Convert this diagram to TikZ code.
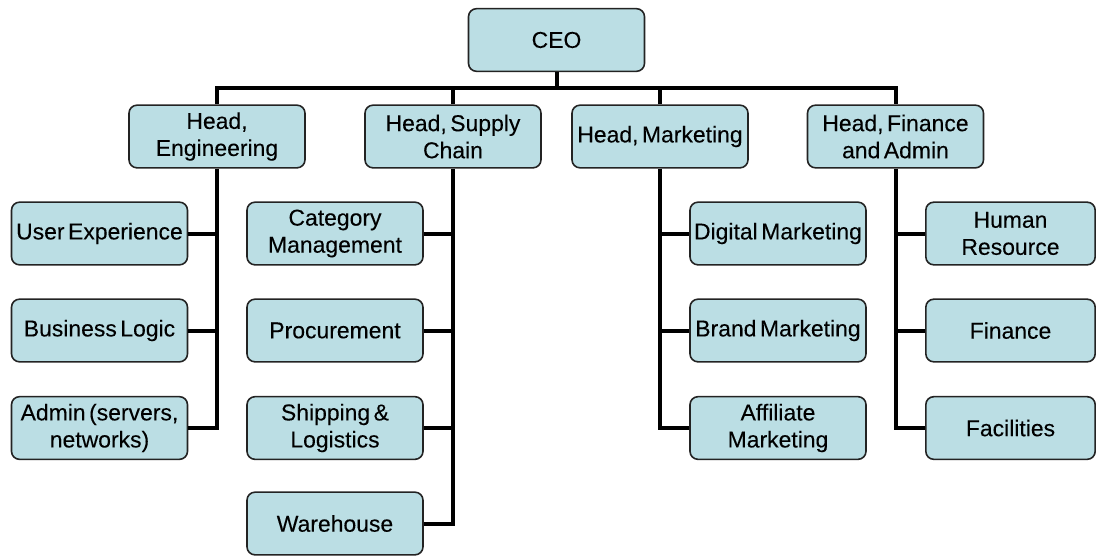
\documentclass[tikz,border=0pt]{standalone}
\usepackage{fontspec}
\setmainfont[WordSpace=0.55,FakeBold=0.15]{Liberation Sans}
\definecolor{boxfill}{RGB}{187,222,228}
\definecolor{boxline}{RGB}{35,35,35}
\tikzset{
  orgbox/.style={draw=boxline, line width=1.2pt, fill=boxfill, rounded corners=6pt,
    minimum width=132pt, minimum height=47pt, inner sep=1pt, align=center,
    font=\fontsize{17.2}{20.3}\selectfont},
  narrowbox/.style={orgbox, minimum width=127pt},
  conn/.style={draw=black, line width=3pt}
}
\begin{document}
\begin{tikzpicture}[x=0.75pt,y=-0.75pt]
\useasboundingbox (0,0) rectangle (1097,557);
\coordinate (bus) at (0,88);
% top
\node[orgbox] (ceo) at (556.5,40) {CEO};
\node[orgbox] (eng) at (217,136.5) {Head,\\Engineering};
\node[orgbox] (sup) at (453,136.5) {Head, Supply\\Chain};
\node[orgbox] (mkt) at (660,136.5) {Head, Marketing};
\node[orgbox] (fin) at (895.5,136.5) {Head, Finance\\and Admin};
% engineering
\node[orgbox] (ux)  at (99.5,233.5) {User Experience};
\node[orgbox] (bl)  at (99.5,330.5) {Business Logic};
\node[orgbox] (adm) at (99.5,428) {Admin (servers,\\networks)};
% supply chain
\node[orgbox] (cat) at (335,233.5) {Category\\Management};
\node[orgbox] (pro) at (335,330.5) {Procurement};
\node[orgbox] (shp) at (335,428) {Shipping \&\\Logistics};
\node[orgbox] (war) at (335,523.5) {Warehouse};
% marketing
\node[orgbox] (dig) at (778,233.5) {Digital Marketing};
\node[orgbox] (brd) at (778,330.5) {Brand Marketing};
\node[orgbox] (aff) at (778,428) {Affiliate\\Marketing};
% finance
\node[narrowbox] (hr)  at (1010.5,233.5) {Human\\Resource};
\node[narrowbox] (fn)  at (1010.5,330.5) {Finance};
\node[narrowbox] (fac) at (1010.5,428) {Facilities};
% connectors: top level
\draw[conn] (ceo.south) -- (ceo.south |- bus);
\draw[conn] (eng.north) -- (eng.north |- bus) -- (fin.north |- bus) -- (fin.north);
\draw[conn] (sup.north) -- (sup.north |- bus);
\draw[conn] (mkt.north) -- (mkt.north |- bus);
% engineering
\draw[conn] (eng.south) |- (adm.east);
\draw[conn] (ux.east) -- (ux.east -| eng.south);
\draw[conn] (bl.east) -- (bl.east -| eng.south);
% supply
\draw[conn] (sup.south) |- (war.east);
\draw[conn] (cat.east) -- (cat.east -| sup.south);
\draw[conn] (pro.east) -- (pro.east -| sup.south);
\draw[conn] (shp.east) -- (shp.east -| sup.south);
% marketing
\draw[conn] (mkt.south) |- (aff.west);
\draw[conn] (dig.west) -- (dig.west -| mkt.south);
\draw[conn] (brd.west) -- (brd.west -| mkt.south);
% finance
\draw[conn] (fin.south) |- (fac.west);
\draw[conn] (hr.west) -- (hr.west -| fin.south);
\draw[conn] (fn.west) -- (fn.west -| fin.south);
\end{tikzpicture}
\end{document}
